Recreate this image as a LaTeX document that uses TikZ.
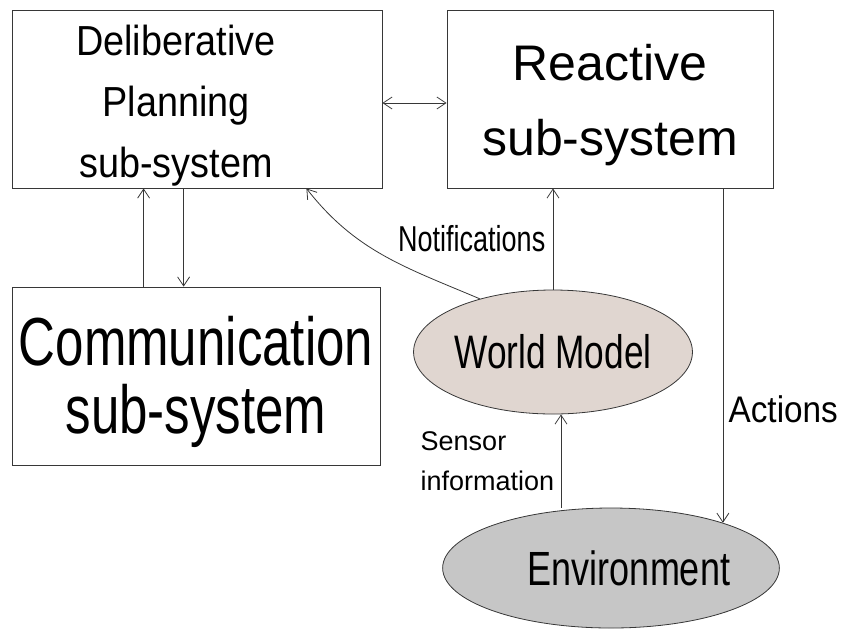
\documentclass[tikz,border=0pt]{standalone}
\usepackage{fontspec}
\setmainfont{Liberation Sans}
\newfontfamily\condsans[FakeStretch=0.75]{Liberation Sans}
\newfontfamily\midsans[FakeStretch=0.9]{Liberation Sans}
\usetikzlibrary{arrows.meta,shapes.geometric}
\definecolor{wmfill}{RGB}{224,214,208}
\definecolor{envfill}{RGB}{198,198,198}
\definecolor{linegray}{RGB}{55,55,55}
\newcommand{\padr}{\hbox to 42pt{}}

\begin{document}
\begin{tikzpicture}[x=1pt, y=-1pt, line width=0.8pt,
    >={Straight Barb[length=9pt,width=12pt]},
    sysbox/.style={draw=linegray, rectangle, minimum height=178pt, inner sep=0pt, align=center},
    blob/.style={draw=linegray, ellipse, inner sep=0pt},
    conn/.style={draw=linegray, ->}]
    \useasboundingbox (0,0) rectangle (845,630);
    \node[sysbox, minimum width=370pt, text height=166pt, font=\midsans\fontsize{42}{61}\selectfont] (delib) at (197,99)
        {Deliberative\padr\\Planning\padr\\sub-system\padr};
    \node[sysbox, minimum width=326pt, text height=123pt, font=\fontsize{50}{75}\selectfont] (react) at (610,99)
        {Reactive\\sub-system};
    \node[sysbox, minimum width=368pt, text height=130pt, font=\condsans\fontsize{68}{68}\selectfont] (comm) at (196,376)
        {Communication\\sub-system};
    \node[blob, fill=wmfill, minimum width=266pt, minimum height=124pt,
        font=\condsans\fontsize{47}{47}\selectfont] (wm) at (553,352) {World Model};
    \node[blob, fill=envfill, minimum width=336pt, minimum height=120pt,
        font=\condsans\fontsize{48}{48}\selectfont] (env) at (611,568) {\hspace*{36pt}Environment};
    \draw[conn, <->] ([yshift=-4pt]delib.east) -- ([yshift=-4pt]react.west);
    \draw[conn] ([xshift=132pt]comm.north west) -- ([xshift=132pt]delib.south west);
    \draw[conn] ([xshift=172pt]delib.south west) -- ([xshift=172pt]comm.north west);
    \draw[conn] (wm.north) -- (wm.north |- react.south)
        node[midway, left=4pt, font=\condsans\fontsize{36}{36}\selectfont] {Notifications};
    \draw[conn] (react.south -| env.22) -- (env.22)
        node[pos=0.66, right=2pt, font=\midsans\fontsize{37}{37}\selectfont] {Actions};
    \draw[conn] ([xshift=-50pt]env.north) -- ([xshift=-50pt]env.north |- wm.south)
        node[midway, left=3pt, align=left, font=\fontsize{27}{40}\selectfont] {Sensor\\information};
    \draw[conn] (wm.144) to[out=157, in=-52] ([xshift=-76pt]delib.south east);
\end{tikzpicture}
\end{document}
